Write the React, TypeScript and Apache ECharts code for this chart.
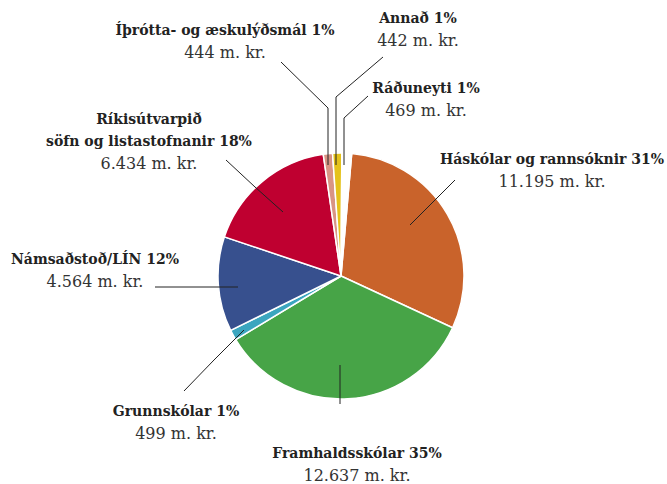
import React, { useEffect, useRef } from "react";
import * as echarts from "echarts";

const names = [
  "Háskólar og rannsóknir",
  "Framhaldsskólar",
  "Grunnskólar",
  "Námsaðstoð/LÍN",
  "Ríkisútvarpið\nsöfn og listastofnanir",
  "Íþrótta- og æskulýðsmál",
  "Annað",
  "Ráðuneyti",
];
const values = [11195, 12637, 499, 4564, 6434, 444, 442, 469];
const pctLabels = ["31%", "35%", "1%", "12%", "18%", "1%", "1%", "1%"];
const colors = ["#C9632B", "#47A447", "#3BA6BF", "#37508E", "#BF0030", "#D99484", "#E5C21A", "#FFFFFF"];

// label anchors (center x, center y) and leader line points, in pixels
const labelPos: [number, number][] = [
  [552, 170],
  [357, 464],
  [176, 422],
  [95, 270],
  [149, 141],
  [225, 41],
  [418, 29],
  [426, 99],
];
const linePts: [number, number][][] = [
  [[410, 225], [432, 203], [455, 180]],
  [[340, 365], [340, 385], [340, 404]],
  [[244, 330], [214, 360], [184, 391]],
  [[238, 287], [196, 287], [155, 287]],
  [[283, 212], [255, 187], [226, 160]],
  [[328, 165], [328, 108], [281, 62]],
  [[336, 165], [336, 97], [383, 57]],
  [[344, 165], [344, 118], [368, 96]],
];

const FONT = "DejaVu Serif";
const fmt = (v: number) => v.toString().replace(/\B(?=(\d{3})+(?!\d))/g, ".") + " m. kr.";

export default function App() {
  const ref = useRef<HTMLDivElement>(null);
  useEffect(() => {
    if (!ref.current) return;
    const chart = echarts.init(ref.current, null, { renderer: "svg" });
    const base = {
      type: "pie",
      center: [341, 276],
      radius: 123,
      startAngle: 85,
      clockwise: true,
      avoidLabelOverlap: false,
    };
    chart.setOption({
      animation: false,
      backgroundColor: "#fff",
      series: [
        {
          ...base,
          z: 2,
          data: names.map((n, i) => ({ name: n, value: values[i], itemStyle: { color: colors[i] } })),
          itemStyle: { borderColor: "#fff", borderWidth: 1.5 },
          label: { show: false },
          labelLine: { show: false },
        },
        {
          ...base,
          z: 5,
          silent: true,
          data: names.map((n, i) => ({ name: n, value: values[i] })),
          itemStyle: { color: "rgba(0,0,0,0)", borderWidth: 0 },
          label: {
            show: true,
            fontFamily: FONT,
            fontSize: 15,
            lineHeight: 22,
            align: "center",
            color: "#222",
            formatter: (p: any) => {
              const lines = (p.name as string).split("\n");
              const last = lines.length - 1;
              const head = lines
                .map((l, k) => `{b|${l}${k === last ? " " + pctLabels[p.dataIndex] : ""}}`)
                .join("\n");
              return head + "\n{v|" + fmt(p.value) + "}";
            },
            rich: {
              b: { fontFamily: FONT, fontWeight: "bold", fontSize: 14, lineHeight: 22, color: "#222" },
              v: { fontFamily: FONT, fontSize: 16, lineHeight: 22, color: "#333" },
            },
          },
          labelLine: { show: true, lineStyle: { color: "#222", width: 1 } },
          labelLayout: (params: any) => {
            const i = params.dataIndex;
            return {
              x: labelPos[i][0],
              y: labelPos[i][1],
              align: "center",
              verticalAlign: "middle",
              labelLinePoints: linePts[i],
            };
          },
        },
      ],
    });
    return () => chart.dispose();
  }, []);
  return (
    <div
      ref={ref}
      style={{ position: "absolute", left: 0, top: 0, width: 667, height: 484 }}
    />
  );
}
